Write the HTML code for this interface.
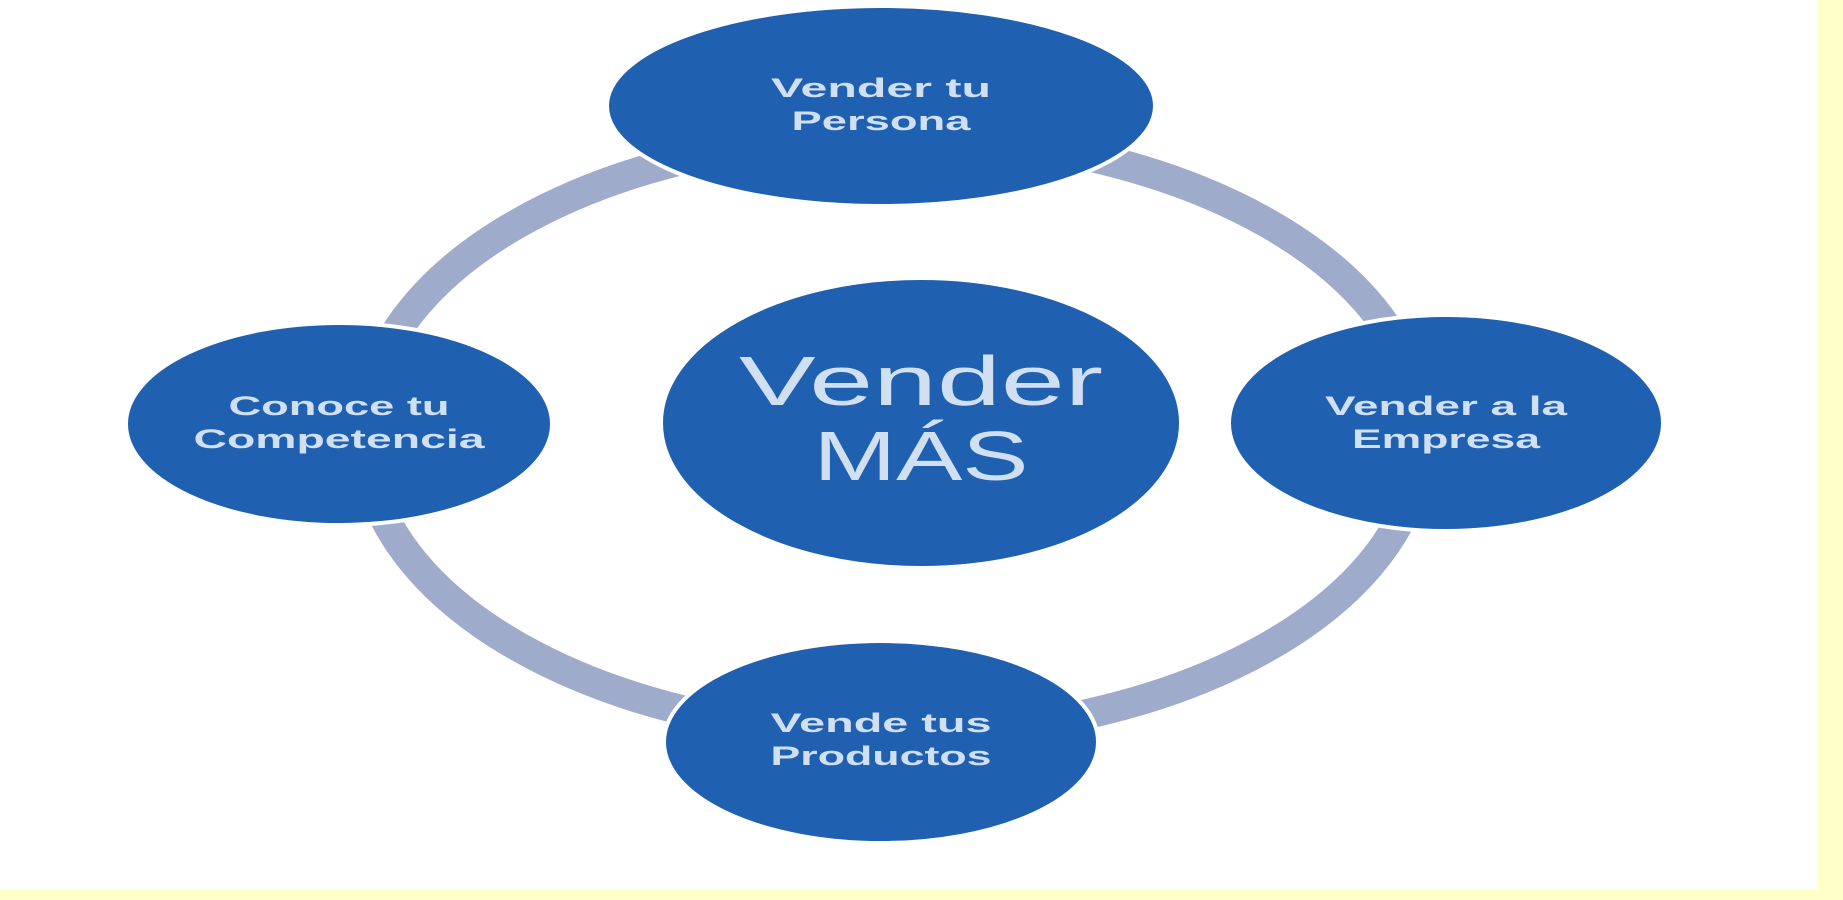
<!DOCTYPE html>
<html><head><meta charset="utf-8"><style>
html,body{margin:0;padding:0;width:1843px;height:900px;overflow:hidden;background:#ffffc8}
</style></head><body>
<svg width="1843" height="900" xmlns="http://www.w3.org/2000/svg" style="position:absolute;left:0;top:0">
<rect x="0" y="0" width="1818" height="890" fill="#ffffff"/>
<ellipse cx="893" cy="435" rx="529" ry="300" fill="none" stroke="#9eabcb" stroke-width="30"/>
<g fill="#2060b0" stroke="#ffffff" stroke-width="4">
<ellipse cx="881" cy="106" rx="274" ry="100"/>
<ellipse cx="921" cy="423" rx="260" ry="145"/>
<ellipse cx="339" cy="424" rx="213" ry="101"/>
<ellipse cx="1446" cy="423" rx="217" ry="108"/>
<ellipse cx="881" cy="742" rx="217" ry="101"/>
</g>
<g fill="#d0e0f2" font-family="Liberation Sans, sans-serif" font-weight="bold" text-anchor="middle" font-size="27" lengthAdjust="spacingAndGlyphs">
<text x="881" y="97" textLength="220" lengthAdjust="spacingAndGlyphs">Vender tu</text><text x="881" y="130" textLength="179" lengthAdjust="spacingAndGlyphs">Persona</text>
<text x="339" y="415" textLength="221" lengthAdjust="spacingAndGlyphs">Conoce tu</text><text x="339" y="448" textLength="291" lengthAdjust="spacingAndGlyphs">Competencia</text>
<text x="1446" y="415" textLength="242" lengthAdjust="spacingAndGlyphs">Vender a la</text><text x="1446" y="448" textLength="188" lengthAdjust="spacingAndGlyphs">Empresa</text>
<text x="881" y="732" textLength="221" lengthAdjust="spacingAndGlyphs">Vende tus</text><text x="881" y="765" textLength="221" lengthAdjust="spacingAndGlyphs">Productos</text>
<text x="921" y="405" font-size="70" font-weight="normal" textLength="364" lengthAdjust="spacingAndGlyphs">Vender</text>
<text x="921" y="480" font-size="70" font-weight="normal" textLength="215" lengthAdjust="spacingAndGlyphs">MÁS</text>
</g>
</svg>
</body></html>
